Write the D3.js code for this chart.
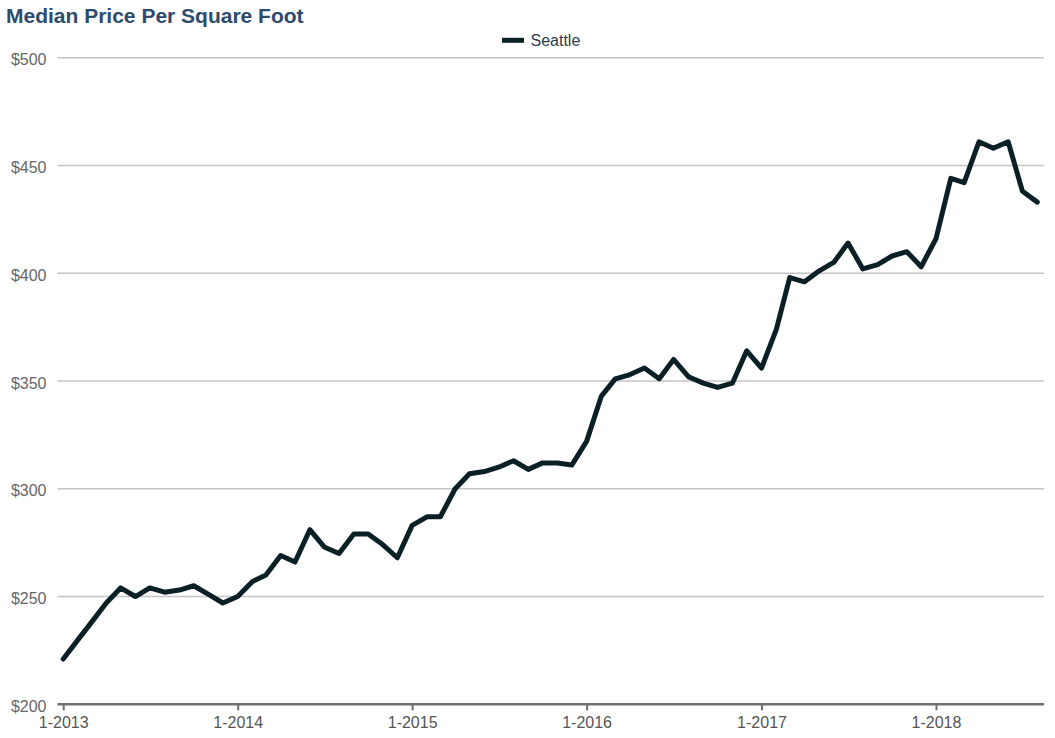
<!DOCTYPE html>
<html>
<head>
<meta charset="utf-8">
<script src="https://cdn.jsdelivr.net/npm/d3@7"></script>
<style>
  html, body { margin: 0; padding: 0; background: #fff; }
  svg { display: block; font-family: "Liberation Sans", Arial, Helvetica, sans-serif; }
</style>
</head>
<body>
<svg id="chart" width="1055" height="738"></svg>
<script>
// ---- data ----
const chartTitle = "Median Price Per Square Foot";
const seriesName = "Seattle";
const startYear = 2013;
const startMonth = 0; // January
const seattleValues = [
  221, 230, 238, 247, 254, 250, 254, 252, 253, 255, 251, 247,
  250, 257, 260, 269, 266, 281, 273, 270, 279, 279, 274, 268,
  283, 287, 287, 300, 307, 308, 310, 313, 309, 312, 312, 311,
  322, 343, 351, 353, 356, 351, 360, 352, 349, 347, 349, 364,
  356, 374, 398, 396, 401, 405, 414, 402, 404, 408, 410, 403,
  416, 444, 442, 461, 458, 461, 438, 433
];
const yTickValues = [200, 250, 300, 350, 400, 450, 500];
const xTickYears = [2013, 2014, 2015, 2016, 2017, 2018];

(function () {
// ---- layout ----
const pLeft = 57.5, pRight = 1044, pTop = 57.7, pBottom = 704.3;
const svg = d3.select("#chart");

const points = seattleValues.map((v, i) => ({ date: new Date(startYear, startMonth + i, 1), value: v }));

const x = d3.scaleTime()
  .domain([new Date(2012, 11, 20), new Date(2018, 7, 15)])
  .range([pLeft, pRight]);
const y = d3.scaleLinear().domain([200, 500]).range([pBottom, pTop]);

// title
svg.append("text")
  .attr("x", 6).attr("y", 22.5)
  .attr("font-size", 21).attr("font-weight", "bold")
  .attr("fill", "#2d4b6e")
  .text(chartTitle);

// legend
const lg = svg.append("g");
lg.append("line").attr("x1", 502).attr("x2", 524).attr("y1", 40.3).attr("y2", 40.3)
  .attr("stroke", "#0b2025").attr("stroke-width", 5);
lg.append("text").attr("x", 530.5).attr("y", 46)
  .attr("font-size", 16).attr("fill", "#2c3e50").text(seriesName);

// gridlines
svg.append("g")
  .selectAll("line")
  .data(yTickValues.filter(d => d > 200))
  .join("line")
  .attr("x1", pLeft).attr("x2", pRight)
  .attr("y1", d => y(d)).attr("y2", d => y(d))
  .attr("stroke", "#c4c4c4").attr("stroke-width", 1.5);

// y axis labels
const yAxis = d3.axisLeft(y).tickValues(yTickValues).tickSize(0).tickPadding(11)
  .tickFormat(d => "$" + d);
const yg = svg.append("g").attr("transform", `translate(${pLeft},0)`).call(yAxis);
yg.select(".domain").remove();
yg.selectAll("text").attr("font-size", 16).attr("fill", "#666").attr("font-family", "Liberation Sans, Arial, sans-serif")
  .attr("dy", "0.45em");

// x axis
const xAxis = d3.axisBottom(x)
  .tickValues(xTickYears.map(yr => new Date(yr, 0, 1)))
  .tickSize(6).tickPadding(6)
  .tickFormat(d => (d.getMonth() + 1) + "-" + d.getFullYear());
const xg = svg.append("g").attr("transform", `translate(0,${pBottom})`).call(xAxis);
xg.select(".domain").attr("d", `M${pLeft},0H${pRight}`).attr("stroke", "#6e6e6e").attr("stroke-width", 2.5);
xg.selectAll(".tick line").attr("stroke", "#6e6e6e").attr("stroke-width", 2);
xg.selectAll("text").attr("font-size", 16).attr("fill", "#555").attr("font-family", "Liberation Sans, Arial, sans-serif");

// line
const line = d3.line().x(d => x(d.date)).y(d => y(d.value));
svg.append("path")
  .datum(points)
  .attr("d", line)
  .attr("fill", "none")
  .attr("stroke", "#0b2025")
  .attr("stroke-width", 5)
  .attr("stroke-linejoin", "round")
  .attr("stroke-linecap", "round");
})();
</script>
</body>
</html>
